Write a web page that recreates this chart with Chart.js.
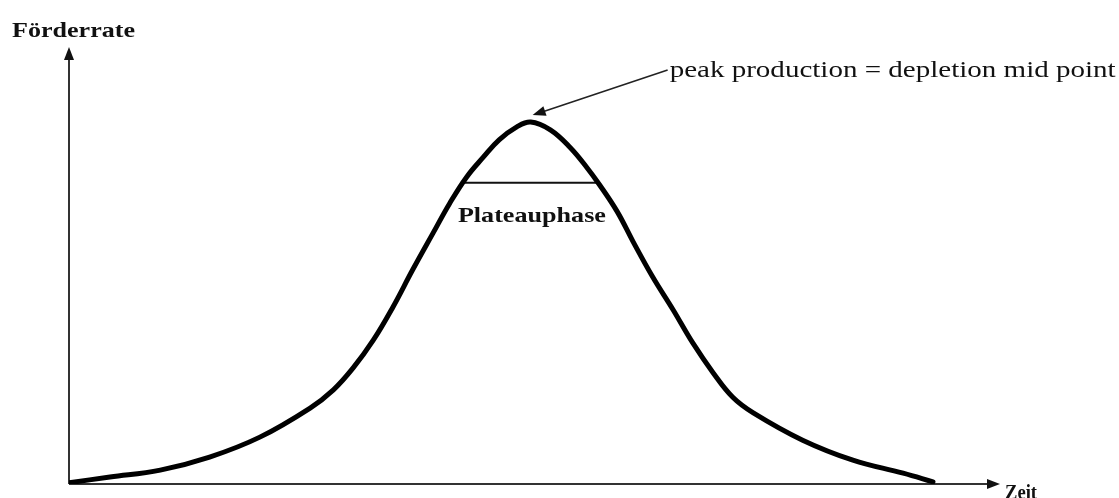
<!DOCTYPE html>
<html>
<head>
<meta charset="utf-8">
<title>Förderrate</title>
<script src="https://cdn.jsdelivr.net/npm/chart.js@4.4.1/dist/chart.umd.min.js"></script>
<style>
  html, body { margin: 0; padding: 0; background: #fff; }
  #wrap { width: 1119px; height: 498px; position: relative; }
</style>
</head>
<body>
<div id="wrap"><canvas id="chart"></canvas></div>
<script>
// Curve (time vs. production rate, arbitrary units 0-100)
const zeit = [0, 4.4, 9.8, 15.1, 20.5, 25.9, 28.4, 30.5, 32.7, 34.8, 36.9, 39.1, 40.9, 42.7, 44.5, 46.2, 48.1, 49.6,
  51.7, 53.8, 55.6, 57.0, 58.9, 60.6, 62.7, 64.9, 67.0, 69.2, 71.3, 73.5, 78.8, 84.2, 89.6, 92.8];
const foerderrate = [0.3, 1.6, 3.2, 6.2, 10.8, 17.5, 21.7, 26.7, 33.2, 40.8, 49.3, 57.8, 64.7, 70.7, 75.3, 79.3, 82.3, 83.4,
  81.6, 77.6, 73.0, 68.9, 62.7, 55.8, 47.7, 40.1, 32.5, 25.6, 20.0, 16.4, 10.1, 5.5, 2.5, 0.5];

// Plateau phase line
const plateauX = [42.2, 56.9];
const plateauY = [69.4, 69.4];

// Peak annotation (arrow from label to peak)
const peakLabel = 'peak production = depletion mid point';
const peakArrowFrom = [64.3, 95.4];
const peakArrowTo = [49.8, 85.0];

const FONT = '"Liberation Serif", "DejaVu Serif", serif';

// draw text stretched horizontally to a target width
function stretchedText(ctx, text, x, y, font, width) {
  ctx.save();
  ctx.font = font + ' ' + FONT;
  const w = ctx.measureText(text).width;
  ctx.translate(x, y);
  ctx.scale(width / w, 1);
  ctx.textBaseline = 'middle';
  ctx.textAlign = 'left';
  ctx.fillStyle = '#111';
  ctx.fillText(text, 0, 0);
  ctx.restore();
}

function arrowHead(ctx, x, y, angle, len, half) {
  ctx.save();
  ctx.translate(x, y);
  ctx.rotate(angle);
  ctx.beginPath();
  ctx.moveTo(0, 0);
  ctx.lineTo(-len, -half);
  ctx.lineTo(-len, half);
  ctx.closePath();
  ctx.fill();
  ctx.restore();
}

const axesPlugin = {
  id: 'axesPlugin',
  beforeDatasetsDraw(chart) {
    const { ctx, chartArea: a } = chart;
    ctx.save();
    ctx.strokeStyle = '#333';
    ctx.fillStyle = '#111';
    ctx.lineWidth = 2;
    // y axis
    ctx.beginPath();
    ctx.moveTo(a.left, a.bottom);
    ctx.lineTo(a.left, a.top + 8);
    ctx.stroke();
    arrowHead(ctx, a.left, a.top - 3, -Math.PI / 2, 13, 5);
    // x axis
    ctx.beginPath();
    ctx.moveTo(a.left, a.bottom);
    ctx.lineTo(a.right - 8, a.bottom);
    ctx.stroke();
    arrowHead(ctx, a.right, a.bottom, 0, 13, 5);
    ctx.restore();
  },
  afterDatasetsDraw(chart) {
    const { ctx, chartArea: a, scales: { x, y } } = chart;
    ctx.save();
    // annotation arrow
    const x1 = x.getPixelForValue(peakArrowFrom[0]), y1 = y.getPixelForValue(peakArrowFrom[1]);
    const x2 = x.getPixelForValue(peakArrowTo[0]), y2 = y.getPixelForValue(peakArrowTo[1]);
    const ang = Math.atan2(y2 - y1, x2 - x1);
    ctx.strokeStyle = '#222';
    ctx.fillStyle = '#111';
    ctx.lineWidth = 1.6;
    ctx.beginPath();
    ctx.moveTo(x1, y1);
    ctx.lineTo(x2 - 10 * Math.cos(ang), y2 - 10 * Math.sin(ang));
    ctx.stroke();
    arrowHead(ctx, x2, y2, ang, 13, 5);

    // texts
    stretchedText(ctx, peakLabel, x1 + 2, 71, '23px', 446);
    stretchedText(ctx, 'Förderrate', 12, 31, 'bold 22px', 123);
    stretchedText(ctx, 'Plateauphase', x.getPixelForValue(plateauX[0]) - 4, y.getPixelForValue(plateauY[0]) + 34, 'bold 22px', 148);
    stretchedText(ctx, 'Zeit', a.right + 5, 493, 'bold 22px', 32);
    ctx.restore();
  }
};

new Chart(document.getElementById('chart'), {
  type: 'scatter',
  data: {
    datasets: [
      {
        label: 'Förderrate',
        data: zeit.map((t, i) => ({ x: t, y: foerderrate[i] })),
        showLine: true,
        borderColor: '#000',
        borderWidth: 5,
        pointRadius: 0,
        tension: 0.4,
        borderCapStyle: 'round',
        borderJoinStyle: 'round'
      },
      {
        label: 'Plateauphase',
        data: plateauX.map((t, i) => ({ x: t, y: plateauY[i] })),
        showLine: true,
        borderColor: '#111',
        borderWidth: 2,
        pointRadius: 0
      }
    ]
  },
  options: {
    responsive: true,
    maintainAspectRatio: false,
    animation: false,
    layout: { padding: { left: 69, right: 119, top: 50, bottom: 14 } },
    plugins: {
      legend: { display: false },
      tooltip: { enabled: false }
    },
    scales: {
      x: { type: 'linear', min: 0, max: 100, display: false },
      y: { type: 'linear', min: 0, max: 100, display: false }
    }
  },
  plugins: [axesPlugin]
});
</script>
</body>
</html>
